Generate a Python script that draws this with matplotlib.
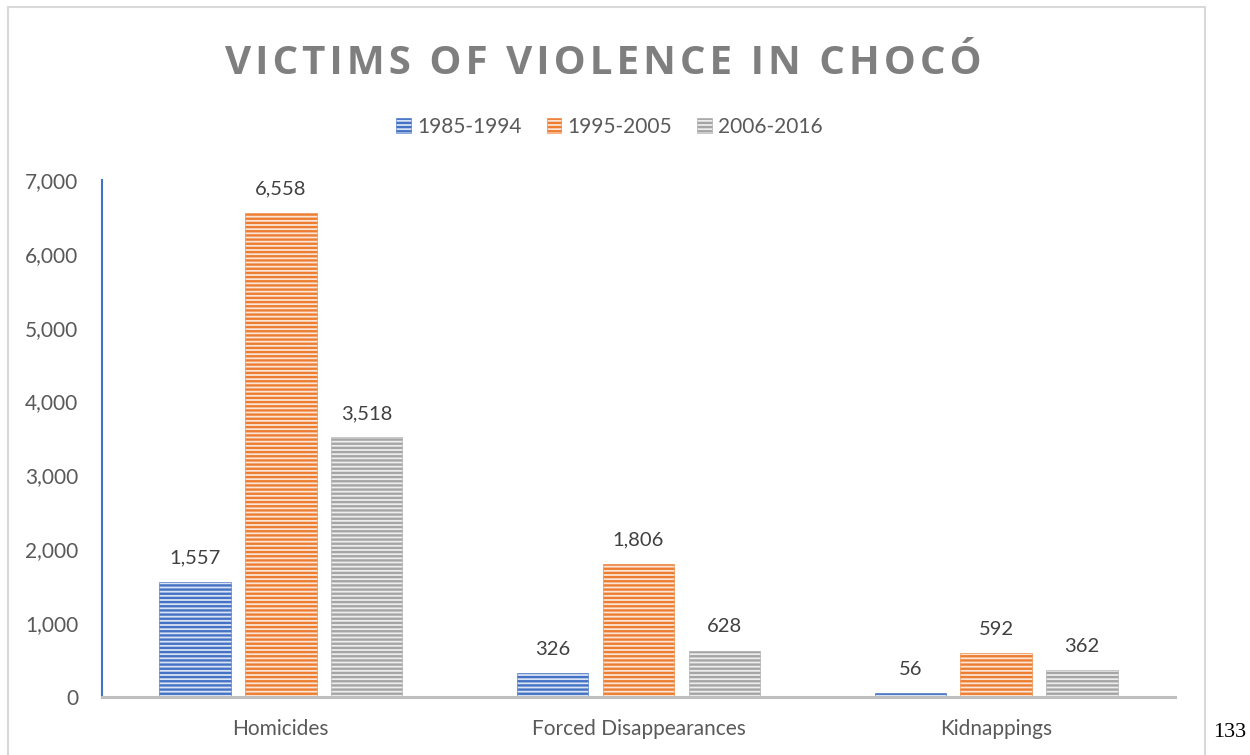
import numpy as np
import matplotlib.pyplot as plt
from matplotlib.patches import Rectangle

plt.rcParams['font.family'] = ['Lato', 'DejaVu Sans']
plt.rcParams['hatch.linewidth'] = 1.7

# data
categories = ['Homicides', 'Forced Disappearances', 'Kidnappings']
periods = ['1985-1994', '1995-2005', '2006-2016']
v_1985 = [1557, 326, 56]
v_1995 = [6558, 1806, 592]
v_2006 = [3518, 628, 362]
series = [v_1985, v_1995, v_2006]
title = 'VICTIMS OF VIOLENCE IN CHOCÓ'

Blue = '#4472C4'
Orange = '#ED7D31'
Gray = '#A5A5A5'
edge_cols = [Blue, Orange, Gray]
face_cols = ['#dae3f3', '#fbe5d6', '#ededed']
txt = '#595959'

fig = plt.figure(figsize=(12.5, 7.55), dpi=100)
ax = fig.add_axes([0.0816, 0.0768, 0.8584, 0.6848])

x = np.arange(len(categories))
w = 0.2
offs = [-0.24, 0.0, 0.24]
for vals, off, ec, fc, lab in zip(series, offs, edge_cols, face_cols, periods):
    ax.bar(x + off, vals, w, color=fc, edgecolor=ec, linewidth=0.4,
           hatch='----', label=lab)
    for xi, v in zip(x + off, vals):
        ax.annotate(f'{v:,}', (xi, v), xytext=(0, 11), textcoords='offset points',
                    ha='center', va='bottom', fontsize=14.5, color='#404040')

ax.set_xlim(-0.5, 2.5)
ax.set_ylim(0, 7000)
ax.set_yticks(np.arange(0, 7001, 1000))
ax.set_yticklabels([f'{t:,}' for t in range(0, 7001, 1000)])
ax.set_xticks(x)
ax.set_xticklabels(categories)
ax.tick_params(axis='both', length=0, labelsize=15, colors=txt)
ax.tick_params(axis='y', pad=17)
ax.tick_params(axis='x', pad=16)
for s in ['top', 'right']:
    ax.spines[s].set_visible(False)
ax.spines['left'].set_color(Blue)
ax.spines['left'].set_linewidth(1.5)
ax.spines['bottom'].set_color('#bfbfbf')
ax.spines['bottom'].set_linewidth(2.2)

# spaced-out title (hair spaces between letters)
spaced = '\u200a'.join(title)
fig.text(0.4824, 0.916, spaced, ha='center', va='center',
         fontsize=29, fontweight='bold', color='#7f7f7f',
         family=['Open Sans', 'DejaVu Sans'])

leg = ax.legend(loc='center', bbox_to_anchor=(0.4875, 0.832), bbox_transform=fig.transFigure,
                ncol=3, frameon=False, fontsize=15, handlelength=0.7, handleheight=0.7,
                handletextpad=0.3, columnspacing=1.2)
for t in leg.get_texts():
    t.set_color(txt)

# outer chart frame
fig.patches.append(Rectangle((8 / 1250, -0.05), 1197 / 1250, 1.05 - 7 / 755,
                             transform=fig.transFigure, fill=False,
                             edgecolor='#d9d9d9', linewidth=1.5))
fig.text(0.984, 0.03, '133', ha='center', va='center', fontsize=16,
         family=['Liberation Serif'], color='black')

fig.savefig('out.png', dpi=100, facecolor='white')
